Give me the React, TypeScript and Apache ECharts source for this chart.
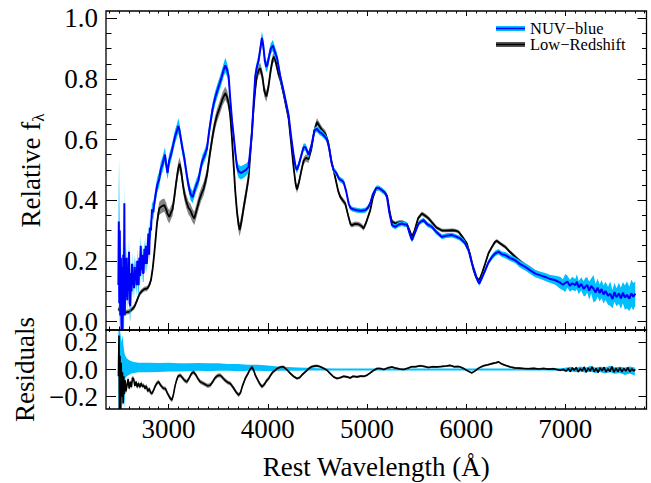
import React, { useEffect, useRef } from 'react';
import * as echarts from 'echarts';

const FONT = 'Liberation Serif';

// axis extents
const X_MIN = 2369;
const X_MAX = 7818;
const FLUX_MIN = -0.028;
const FLUX_MAX = 1.024;
const RES_MIN = -0.29;
const RES_MAX = 0.29;

// tick values
const xMajorTicks = [3000, 4000, 5000, 6000, 7000];
const fluxTicks = [0, 0.2, 0.4, 0.6, 0.8, 1.0];
const resTicks = [-0.2, 0, 0.2];

// NUV-blue composite: [wavelength, relative flux, 1-sigma]
const nuvBlue: number[][] = [
  [2494, 0.12, 0.12], [2498, 0.33, 0.2], [2503, 0.06, 0.15], [2508, 0.3, 0.25], [2513, 0.02, 0.12],
  [2519, 0.21, 0.1], [2525, -0.03, 0.08], [2531, 0.18, 0.1], [2537, -0.03, 0.08], [2543, 0.22, 0.08],
  [2549, 0.05, 0.08], [2554, 0.39, 0.07], [2559, 0.02, 0.06], [2565, 0.2, 0.06], [2571, 0.08, 0.05],
  [2577, 0.21, 0.05], [2583, 0.07, 0.05], [2589, 0.18, 0.05], [2595, 0.1, 0.05], [2601, 0.23, 0.05],
  [2608, 0.06, 0.05], [2614, 0.05, 0.05], [2620, 0.16, 0.04], [2626, 0.1, 0.04], [2632, 0.19, 0.04],
  [2638, 0.12, 0.04], [2645, 0.16, 0.04], [2651, 0.11, 0.04], [2658, 0.18, 0.04], [2664, 0.14, 0.04],
  [2670, 0.17, 0.04], [2677, 0.12, 0.04], [2684, 0.2, 0.04], [2691, 0.13, 0.035], [2698, 0.12, 0.035],
  [2705, 0.21, 0.035], [2712, 0.15, 0.035], [2719, 0.25, 0.035], [2726, 0.17, 0.035], [2733, 0.22, 0.035],
  [2740, 0.16, 0.03], [2748, 0.16, 0.03], [2756, 0.24, 0.03], [2764, 0.19, 0.03], [2772, 0.25, 0.03],
  [2780, 0.19, 0.03], [2788, 0.23, 0.03], [2796, 0.29, 0.03], [2804, 0.22, 0.03], [2812, 0.31, 0.03],
  [2822, 0.3, 0.028], [2833, 0.37, 0.028], [2845, 0.36, 0.025], [2856, 0.39, 0.025], [2870, 0.42, 0.025],
  [2885, 0.45, 0.025], [2906, 0.47, 0.025], [2920, 0.5, 0.025], [2940, 0.52, 0.025], [2963, 0.55, 0.025],
  [2975, 0.52, 0.025], [2990, 0.49, 0.022], [3005, 0.53, 0.022], [3024, 0.55, 0.022], [3045, 0.58, 0.022],
  [3065, 0.61, 0.022], [3085, 0.63, 0.022], [3098, 0.645, 0.025], [3110, 0.63, 0.022], [3125, 0.6, 0.022],
  [3140, 0.57, 0.022], [3158, 0.54, 0.022], [3180, 0.49, 0.02], [3200, 0.45, 0.02], [3222, 0.42, 0.02],
  [3242, 0.41, 0.02], [3260, 0.43, 0.02], [3280, 0.45, 0.02], [3300, 0.465, 0.02], [3320, 0.5, 0.02],
  [3340, 0.53, 0.02], [3360, 0.545, 0.02], [3387, 0.57, 0.02], [3410, 0.63, 0.022], [3443, 0.7, 0.022],
  [3471, 0.74, 0.022], [3500, 0.77, 0.022], [3530, 0.8, 0.022], [3555, 0.83, 0.022], [3572, 0.845, 0.025],
  [3590, 0.83, 0.022], [3605, 0.81, 0.022], [3620, 0.74, 0.02], [3640, 0.66, 0.02], [3655, 0.615, 0.02],
  [3675, 0.55, 0.02], [3690, 0.51, 0.02], [3706, 0.495, 0.022], [3730, 0.49, 0.022], [3756, 0.495, 0.022],
  [3780, 0.5, 0.02], [3806, 0.51, 0.02], [3822, 0.56, 0.02], [3840, 0.62, 0.02], [3857, 0.72, 0.018],
  [3874, 0.81, 0.018], [3890, 0.84, 0.018], [3907, 0.86, 0.018], [3925, 0.9, 0.02], [3941, 0.935, 0.022],
  [3955, 0.91, 0.02], [3970, 0.86, 0.018], [3985, 0.84, 0.018], [3995, 0.845, 0.018], [4010, 0.87, 0.018],
  [4030, 0.9, 0.018], [4052, 0.91, 0.018], [4070, 0.89, 0.018], [4093, 0.87, 0.016], [4125, 0.81, 0.015],
  [4159, 0.76, 0.014], [4185, 0.72, 0.013], [4210, 0.68, 0.013], [4235, 0.61, 0.012], [4260, 0.55, 0.012],
  [4280, 0.51, 0.012], [4294, 0.5, 0.012], [4315, 0.52, 0.012], [4340, 0.55, 0.012], [4361, 0.575, 0.012],
  [4380, 0.575, 0.012], [4411, 0.55, 0.011], [4440, 0.58, 0.011], [4470, 0.63, 0.01], [4496, 0.635, 0.01],
  [4520, 0.625, 0.01], [4546, 0.62, 0.01], [4575, 0.61, 0.01], [4597, 0.6, 0.01], [4620, 0.57, 0.009],
  [4645, 0.52, 0.009], [4663, 0.5, 0.009], [4690, 0.49, 0.009], [4720, 0.47, 0.009], [4745, 0.465, 0.009],
  [4764, 0.46, 0.009], [4790, 0.43, 0.008], [4815, 0.39, 0.008], [4832, 0.375, 0.008], [4860, 0.37, 0.008],
  [4899, 0.367, 0.008], [4940, 0.365, 0.008], [4983, 0.367, 0.008], [5010, 0.375, 0.008], [5033, 0.39, 0.008],
  [5060, 0.42, 0.008], [5094, 0.44, 0.008], [5120, 0.44, 0.008], [5151, 0.433, 0.008], [5180, 0.425, 0.008],
  [5202, 0.41, 0.008], [5225, 0.36, 0.008], [5252, 0.318, 0.008], [5285, 0.312, 0.008], [5320, 0.32, 0.008],
  [5353, 0.323, 0.008], [5380, 0.32, 0.008], [5403, 0.32, 0.008], [5430, 0.29, 0.008], [5454, 0.268, 0.008],
  [5480, 0.29, 0.008], [5520, 0.323, 0.008], [5545, 0.33, 0.008], [5571, 0.334, 0.008], [5610, 0.32, 0.008],
  [5655, 0.312, 0.008], [5700, 0.295, 0.008], [5756, 0.279, 0.008], [5800, 0.283, 0.008], [5857, 0.285, 0.008],
  [5900, 0.28, 0.008], [5940, 0.274, 0.008], [5985, 0.26, 0.008], [6024, 0.235, 0.008], [6060, 0.19, 0.008],
  [6092, 0.158, 0.008], [6115, 0.135, 0.008], [6132, 0.125, 0.008], [6160, 0.145, 0.008], [6192, 0.169, 0.008],
  [6225, 0.195, 0.008], [6260, 0.213, 0.009], [6295, 0.225, 0.009], [6327, 0.23, 0.009], [6360, 0.222, 0.009],
  [6394, 0.219, 0.01], [6440, 0.21, 0.01], [6495, 0.202, 0.01], [6540, 0.19, 0.012], [6596, 0.18, 0.012],
  [6650, 0.168, 0.012], [6697, 0.158, 0.012], [6750, 0.152, 0.012], [6797, 0.147, 0.013], [6850, 0.14, 0.013],
  [6898, 0.136, 0.015], [6948, 0.128, 0.02], [6975, 0.121, 0.018], [6999, 0.127, 0.03], [7020, 0.132, 0.02],
  [7045, 0.118, 0.02], [7070, 0.126, 0.022], [7100, 0.12, 0.02], [7116, 0.131, 0.025], [7135, 0.112, 0.022],
  [7160, 0.124, 0.022], [7185, 0.108, 0.025], [7201, 0.114, 0.03], [7220, 0.121, 0.025], [7240, 0.102, 0.03],
  [7260, 0.117, 0.025], [7284, 0.108, 0.045], [7305, 0.096, 0.028], [7325, 0.112, 0.03], [7345, 0.094, 0.028],
  [7365, 0.107, 0.03], [7385, 0.089, 0.03], [7405, 0.101, 0.03], [7430, 0.085, 0.03], [7452, 0.092, 0.04],
  [7475, 0.074, 0.03], [7495, 0.097, 0.032], [7515, 0.08, 0.03], [7540, 0.093, 0.035], [7560, 0.076, 0.035],
  [7580, 0.095, 0.035], [7600, 0.079, 0.04], [7621, 0.088, 0.045], [7645, 0.075, 0.04], [7665, 0.093, 0.045],
  [7685, 0.082, 0.045], [7705, 0.092, 0.04],
];

// Low-redshift composite: [wavelength, relative flux, 1-sigma]
const lowRedshift: number[][] = [
  [2494, 0.043, 0.008], [2510, 0.035, 0.008], [2530, 0.032, 0.008], [2555, 0.03, 0.008], [2580, 0.031, 0.008],
  [2605, 0.033, 0.008], [2630, 0.04, 0.008], [2654, 0.048, 0.008], [2680, 0.068, 0.008], [2705, 0.09, 0.008],
  [2730, 0.1, 0.008], [2755, 0.107, 0.008], [2775, 0.108, 0.008], [2788, 0.11, 0.008], [2805, 0.12, 0.009],
  [2822, 0.136, 0.01], [2840, 0.175, 0.012], [2856, 0.225, 0.014], [2870, 0.275, 0.016], [2883, 0.324, 0.018],
  [2895, 0.352, 0.02], [2906, 0.373, 0.022], [2930, 0.38, 0.022], [2957, 0.384, 0.022], [2975, 0.37, 0.022],
  [2990, 0.355, 0.022], [3007, 0.345, 0.022], [3025, 0.36, 0.022], [3040, 0.37, 0.022], [3058, 0.41, 0.022],
  [3075, 0.455, 0.022], [3095, 0.5, 0.022], [3110, 0.52, 0.022], [3125, 0.5, 0.022], [3145, 0.45, 0.022],
  [3160, 0.42, 0.022], [3175, 0.4, 0.022], [3200, 0.375, 0.022], [3219, 0.367, 0.022], [3240, 0.35, 0.022],
  [3259, 0.34, 0.022], [3285, 0.37, 0.022], [3309, 0.4, 0.022], [3330, 0.42, 0.022], [3355, 0.44, 0.022],
  [3387, 0.483, 0.022], [3415, 0.55, 0.022], [3443, 0.61, 0.022], [3465, 0.65, 0.022], [3488, 0.68, 0.022],
  [3515, 0.705, 0.022], [3545, 0.735, 0.022], [3572, 0.753, 0.022], [3590, 0.74, 0.022], [3605, 0.72, 0.022],
  [3622, 0.68, 0.022], [3640, 0.6, 0.022], [3655, 0.52, 0.022], [3672, 0.43, 0.022], [3690, 0.36, 0.022],
  [3705, 0.32, 0.022], [3716, 0.302, 0.022], [3735, 0.33, 0.022], [3756, 0.374, 0.022], [3780, 0.42, 0.022],
  [3806, 0.473, 0.02], [3830, 0.58, 0.02], [3857, 0.704, 0.018], [3875, 0.77, 0.018], [3891, 0.813, 0.018],
  [3910, 0.83, 0.018], [3924, 0.835, 0.018], [3945, 0.81, 0.018], [3965, 0.76, 0.018], [3985, 0.742, 0.018],
  [4005, 0.77, 0.018], [4030, 0.83, 0.018], [4050, 0.865, 0.016], [4066, 0.874, 0.016], [4085, 0.85, 0.015],
  [4105, 0.82, 0.015], [4126, 0.8, 0.014], [4160, 0.75, 0.013], [4185, 0.71, 0.012], [4210, 0.67, 0.012],
  [4235, 0.59, 0.012], [4260, 0.51, 0.012], [4280, 0.455, 0.012], [4294, 0.435, 0.012], [4315, 0.46, 0.012],
  [4340, 0.5, 0.012], [4361, 0.53, 0.012], [4385, 0.54, 0.012], [4410, 0.535, 0.012], [4440, 0.57, 0.012],
  [4470, 0.63, 0.012], [4496, 0.658, 0.012], [4520, 0.645, 0.012], [4550, 0.63, 0.011], [4580, 0.62, 0.011],
  [4610, 0.59, 0.01], [4640, 0.53, 0.01], [4663, 0.5, 0.01], [4690, 0.46, 0.01], [4710, 0.43, 0.009],
  [4731, 0.411, 0.009], [4755, 0.4, 0.009], [4781, 0.389, 0.009], [4810, 0.35, 0.009], [4835, 0.32, 0.008],
  [4849, 0.318, 0.008], [4880, 0.322, 0.008], [4915, 0.321, 0.008], [4945, 0.315, 0.008], [4966, 0.307, 0.008],
  [4990, 0.325, 0.008], [5033, 0.367, 0.008], [5060, 0.41, 0.008], [5094, 0.44, 0.008], [5120, 0.44, 0.008],
  [5151, 0.432, 0.008], [5180, 0.425, 0.008], [5202, 0.415, 0.008], [5230, 0.36, 0.008], [5250, 0.33, 0.008],
  [5285, 0.323, 0.007], [5320, 0.327, 0.007], [5353, 0.328, 0.007], [5380, 0.324, 0.007], [5403, 0.321, 0.007],
  [5430, 0.3, 0.007], [5454, 0.279, 0.007], [5480, 0.3, 0.007], [5515, 0.34, 0.007], [5554, 0.356, 0.007],
  [5590, 0.348, 0.007], [5621, 0.34, 0.007], [5660, 0.325, 0.007], [5700, 0.31, 0.006], [5756, 0.3, 0.006],
  [5800, 0.3, 0.006], [5857, 0.301, 0.006], [5890, 0.3, 0.006], [5923, 0.296, 0.006], [5960, 0.28, 0.006],
  [6007, 0.257, 0.006], [6040, 0.22, 0.006], [6075, 0.169, 0.006], [6100, 0.145, 0.006], [6132, 0.136, 0.006],
  [6160, 0.16, 0.006], [6192, 0.191, 0.006], [6225, 0.225, 0.006], [6260, 0.246, 0.006], [6290, 0.262, 0.006],
  [6310, 0.266, 0.006], [6340, 0.258, 0.006], [6394, 0.246, 0.006], [6440, 0.23, 0.006], [6495, 0.213, 0.006],
  [6540, 0.2, 0.006], [6596, 0.186, 0.006], [6650, 0.175, 0.006], [6697, 0.164, 0.006], [6750, 0.156, 0.006],
  [6800, 0.148, 0.006], [6850, 0.141, 0.006], [6900, 0.135, 0.006], [6950, 0.128, 0.006], [7000, 0.124, 0.006],
  [7050, 0.12, 0.006], [7100, 0.116, 0.006], [7150, 0.112, 0.006], [7200, 0.108, 0.006], [7250, 0.105, 0.006],
  [7300, 0.101, 0.006], [7350, 0.098, 0.006], [7400, 0.094, 0.006], [7450, 0.091, 0.006], [7500, 0.088, 0.006],
  [7550, 0.086, 0.006], [7600, 0.084, 0.006], [7650, 0.083, 0.006], [7700, 0.082, 0.006],
];

// NUV-blue residual band: [wavelength, lower, upper]
const nuvResidualBand: number[][] = [
  [2494, -0.29, 0.29], [2510, -0.29, 0.29], [2525, -0.29, 0.2], [2535, -0.25, 0.25], [2545, -0.12, 0.18],
  [2555, -0.29, 0.12], [2565, -0.06, 0.1], [2580, -0.05, 0.08], [2600, -0.04, 0.07], [2625, -0.03, 0.06],
  [2650, -0.025, 0.055], [2700, -0.02, 0.05], [2800, -0.02, 0.05], [2900, -0.018, 0.048], [3000, -0.015, 0.05],
  [3100, -0.015, 0.045], [3200, -0.012, 0.045], [3300, -0.01, 0.048], [3400, -0.012, 0.045], [3500, -0.01, 0.045],
  [3600, -0.01, 0.04], [3700, -0.012, 0.04], [3800, -0.01, 0.035], [3900, -0.01, 0.035], [4000, -0.012, 0.03],
  [4100, -0.01, 0.022], [4200, -0.01, 0.018], [4300, -0.01, 0.015], [4400, -0.008, 0.012], [4500, -0.008, 0.01],
  [4700, -0.008, 0.008], [5000, -0.007, 0.007], [5500, -0.007, 0.007], [6000, -0.007, 0.007], [6500, -0.007, 0.007],
  [6800, -0.007, 0.007], [6950, -0.01, 0.01], [7000, -0.015, 0.012], [7050, -0.012, 0.02], [7100, -0.02, 0.01],
  [7150, -0.014, 0.022], [7200, -0.022, 0.012], [7250, -0.015, 0.025], [7300, -0.025, 0.014], [7350, -0.018, 0.02],
  [7400, -0.03, 0.016], [7450, -0.02, 0.025], [7500, -0.032, 0.015], [7550, -0.025, 0.02], [7600, -0.04, 0.014],
  [7650, -0.03, 0.022], [7700, -0.045, 0.015],
];

// Low-redshift residual: [wavelength, residual, 1-sigma]
const lowRedshiftResidual: number[][] = [
  [2494, -0.05, 0.02], [2500, 0.25, 0.02], [2505, -0.29, 0.02], [2510, 0.1, 0.02], [2516, -0.29, 0.02],
  [2522, 0.05, 0.02], [2528, -0.2, 0.02], [2535, -0.02, 0.02], [2542, -0.25, 0.02], [2548, -0.05, 0.02],
  [2555, -0.18, 0.02], [2562, -0.08, 0.02], [2570, -0.16, 0.02], [2581, -0.115, 0.02], [2592, -0.07, 0.02],
  [2603, -0.14, 0.015], [2615, -0.09, 0.015], [2625, -0.13, 0.015], [2636, -0.06, 0.015], [2648, -0.07, 0.015],
  [2660, -0.12, 0.015], [2672, -0.09, 0.015], [2684, -0.13, 0.015], [2696, -0.1, 0.015], [2710, -0.13, 0.015],
  [2723, -0.1, 0.015], [2736, -0.125, 0.015], [2749, -0.115, 0.015], [2762, -0.14, 0.015], [2775, -0.12, 0.015],
  [2790, -0.16, 0.015], [2805, -0.14, 0.015], [2818, -0.17, 0.015], [2833, -0.176, 0.015], [2850, -0.15, 0.015],
  [2866, -0.12, 0.015], [2883, -0.1, 0.015], [2899, -0.09, 0.015], [2915, -0.11, 0.015], [2930, -0.125, 0.015],
  [2950, -0.14, 0.015], [2967, -0.139, 0.015], [2985, -0.17, 0.015], [3000, -0.19, 0.015], [3015, -0.21, 0.015],
  [3034, -0.225, 0.015], [3050, -0.18, 0.015], [3065, -0.12, 0.015], [3080, -0.08, 0.015], [3095, -0.05, 0.015],
  [3118, -0.042, 0.015], [3140, -0.06, 0.015], [3160, -0.08, 0.015], [3185, -0.091, 0.015], [3210, -0.06, 0.015],
  [3230, -0.03, 0.015], [3252, -0.018, 0.015], [3275, -0.04, 0.015], [3298, -0.07, 0.015], [3320, -0.091, 0.015],
  [3345, -0.1, 0.015], [3370, -0.11, 0.015], [3395, -0.12, 0.015], [3420, -0.115, 0.015], [3445, -0.09, 0.015],
  [3470, -0.06, 0.015], [3495, -0.045, 0.015], [3521, -0.042, 0.015], [3545, -0.06, 0.015], [3570, -0.08, 0.015],
  [3597, -0.095, 0.015], [3622, -0.103, 0.015], [3650, -0.13, 0.015], [3680, -0.165, 0.015], [3706, -0.188, 0.015],
  [3725, -0.17, 0.015], [3745, -0.12, 0.015], [3773, -0.066, 0.015], [3800, -0.03, 0.015], [3820, 0.0, 0.015],
  [3841, 0.019, 0.015], [3860, -0.01, 0.015], [3876, -0.045, 0.015], [3891, -0.066, 0.015], [3915, -0.1, 0.015],
  [3941, -0.127, 0.015], [3965, -0.11, 0.015], [3985, -0.085, 0.015], [4009, -0.066, 0.015], [4030, -0.04, 0.013],
  [4050, -0.02, 0.012], [4076, -0.005, 0.012], [4100, 0.01, 0.01], [4130, 0.018, 0.01], [4159, 0.019, 0.01],
  [4190, 0.0, 0.01], [4210, -0.015, 0.01], [4227, -0.029, 0.01], [4260, -0.05, 0.01], [4294, -0.066, 0.01],
  [4320, -0.06, 0.01], [4345, -0.04, 0.01], [4378, -0.018, 0.01], [4410, 0.005, 0.01], [4440, 0.02, 0.01],
  [4470, 0.025, 0.01], [4496, 0.027, 0.01], [4530, 0.02, 0.008], [4565, 0.008, 0.008], [4597, -0.005, 0.008],
  [4630, -0.03, 0.008], [4665, -0.055, 0.008], [4698, -0.066, 0.008], [4730, -0.06, 0.008], [4765, -0.05, 0.008],
  [4798, -0.054, 0.008], [4830, -0.062, 0.008], [4860, -0.05, 0.008], [4899, -0.054, 0.008], [4940, -0.048, 0.008],
  [4970, -0.05, 0.008], [5000, -0.042, 0.008], [5033, -0.025, 0.008], [5070, -0.005, 0.008], [5101, 0.007, 0.008],
  [5134, 0.007, 0.007], [5170, 0.0, 0.007], [5210, 0.012, 0.007], [5252, 0.019, 0.007], [5290, 0.01, 0.007],
  [5330, 0.004, 0.007], [5369, 0.0, 0.007], [5410, 0.01, 0.007], [5450, 0.02, 0.007], [5490, 0.02, 0.007],
  [5537, 0.027, 0.007], [5580, 0.022, 0.007], [5620, 0.015, 0.007], [5660, 0.02, 0.007], [5706, 0.019, 0.007],
  [5750, 0.022, 0.007], [5800, 0.026, 0.007], [5840, 0.03, 0.007], [5880, 0.02, 0.007], [5920, 0.022, 0.007],
  [5940, 0.019, 0.007], [5980, 0.005, 0.007], [6020, -0.012, 0.007], [6058, -0.025, 0.007], [6090, -0.01, 0.007],
  [6130, 0.012, 0.007], [6175, 0.027, 0.007], [6220, 0.035, 0.007], [6270, 0.045, 0.007], [6300, 0.05, 0.007],
  [6327, 0.056, 0.007], [6360, 0.04, 0.007], [6400, 0.03, 0.007], [6445, 0.019, 0.007], [6490, 0.012, 0.007],
  [6530, 0.01, 0.007], [6579, 0.007, 0.007], [6630, 0.005, 0.007], [6680, 0.008, 0.007], [6730, 0.004, 0.007],
  [6780, 0.007, 0.007], [6830, 0.003, 0.007], [6880, 0.005, 0.007], [6948, -0.005, 0.007], [6980, 0.0, 0.007],
  [7010, -0.012, 0.007], [7030, 0.008, 0.007], [7050, -0.015, 0.007], [7070, 0.012, 0.007], [7090, -0.006, 0.007],
  [7110, 0.015, 0.007], [7130, -0.018, 0.007], [7150, 0.006, 0.007], [7170, -0.01, 0.007], [7190, 0.018, 0.007],
  [7210, -0.02, 0.007], [7230, 0.01, 0.007], [7250, -0.012, 0.007], [7270, 0.02, 0.007], [7290, -0.016, 0.007],
  [7310, 0.008, 0.007], [7330, -0.022, 0.007], [7350, 0.012, 0.007], [7370, -0.01, 0.007], [7390, 0.016, 0.007],
  [7410, -0.018, 0.007], [7430, 0.006, 0.007], [7450, -0.014, 0.007], [7470, 0.022, 0.007], [7490, -0.02, 0.007],
  [7510, 0.01, 0.007], [7530, -0.015, 0.007], [7550, 0.012, 0.007], [7570, -0.018, 0.007], [7590, 0.008, 0.007],
  [7610, -0.012, 0.007], [7630, 0.014, 0.007], [7650, -0.016, 0.007], [7670, 0.005, 0.007], [7690, -0.01, 0.007],
  [7705, 0.0, 0.007],
];

const CYAN = '#00BFFF';
const BLUE = '#0000FF';
const GRAY = '#6F6F6F';
const BLACK = '#000000';

function stepValues(from: number, to: number, step: number): number[] {
  const out: number[] = [];
  const n = Math.round((to - from) / step);
  for (let i = 0; i <= n; i++) out.push(+(from + i * step).toFixed(6));
  return out;
}

const xMinorTicks = stepValues(2400, 7800, 100);
const fluxMinorTicks = stepValues(0, 1.0, 0.05);

function fmtNum(v: number): string {
  const s = Math.abs(v).toFixed(1);
  return v < -1e-9 ? '\u2212' + s : s;
}

// band drawn as one polygon through the axes' own scales (api.coord)
function bandSeries(id: string, rows: number[][], color: string, opacity: number, xi: number, yi: number, z: number) {
  return {
    id, type: 'custom', xAxisIndex: xi, yAxisIndex: yi, silent: true, z,
    encode: { x: 0, y: [1, 2] },
    data: rows,
    renderItem: (params: any, api: any) => {
      if (params.dataIndexInside !== 0) return null;
      const cs = params.coordSys;
      const top = cs.y;
      const bottom = cs.y + cs.height;
      const clampY = (p: number[]) => [p[0], Math.min(bottom, Math.max(top, p[1]))];
      const n = params.dataInsideLength;
      const upper: number[][] = [];
      const lower: number[][] = [];
      for (let j = 0; j < n; j++) {
        const x = api.value(0, j);
        upper.push(clampY(api.coord([x, api.value(2, j)])));
        lower.push(clampY(api.coord([x, api.value(1, j)])));
      }
      return {
        type: 'polygon',
        shape: { points: upper.concat(lower.reverse()) },
        style: { fill: color, opacity, stroke: null },
      };
    },
  };
}

function lineSeries(id: string, data: number[][], color: string, width: number, xi: number, yi: number, z: number) {
  return { id, type: 'line', xAxisIndex: xi, yAxisIndex: yi, symbol: 'none', silent: true, z, clip: true, lineStyle: { color, width }, data };
}

function xAxis(grid: number, position: string, ticks: number[], len: number, extra: any = {}) {
  return {
    type: 'value', gridIndex: grid, position, min: X_MIN, max: X_MAX,
    axisLine: { show: false, onZero: false }, splitLine: { show: false },
    axisTick: { show: true, inside: true, length: len, customValues: ticks, lineStyle: { color: BLACK, width: 1 } },
    axisLabel: { show: false },
    axisPointer: { show: false },
    ...extra,
  };
}

function yAxis(grid: number, position: string, min: number, max: number, ticks: number[], len: number, extra: any = {}) {
  return {
    type: 'value', gridIndex: grid, position, min, max,
    axisLine: { show: false, onZero: false }, splitLine: { show: false },
    axisTick: { show: true, inside: true, length: len, customValues: ticks, lineStyle: { color: BLACK, width: 1 } },
    axisLabel: { show: false },
    axisPointer: { show: false },
    ...extra,
  };
}

export default function App() {
  const ref = useRef<HTMLDivElement>(null);

  useEffect(() => {
    document.body.style.margin = '0';
    if (!ref.current) return;
    const chart = echarts.init(ref.current, null, { renderer: 'svg' });

    const labelStyle = { show: true, color: BLACK, fontFamily: FONT, fontSize: 27, lineHeight: 20 };

    const option: any = {
      animation: false,
      backgroundColor: '#ffffff',
      textStyle: { fontFamily: FONT },
      grid: [
        { left: 106, right: 4.5, top: 11, height: 319, show: true, borderColor: BLACK, borderWidth: 1.3, backgroundColor: 'transparent', z: 10 },
        { left: 106, right: 4.5, top: 330, height: 79, show: true, borderColor: BLACK, borderWidth: 1.3, backgroundColor: 'transparent', z: 10 },
      ],
      xAxis: [
        xAxis(0, 'bottom', xMajorTicks, 7),
        xAxis(0, 'bottom', xMinorTicks, 3.5),
        xAxis(0, 'top', xMajorTicks, 5),
        xAxis(0, 'top', xMinorTicks, 2.5),
        xAxis(1, 'bottom', xMajorTicks, 5, {
          axisLabel: { ...labelStyle, margin: 10, customValues: xMajorTicks, formatter: (v: number) => String(Math.round(v)) },
          name: 'Rest Wavelength (\u00C5)', nameLocation: 'middle', nameGap: 44,
          nameTextStyle: { color: BLACK, fontFamily: FONT, fontSize: 27 },
        }),
        xAxis(1, 'bottom', xMinorTicks, 2.5),
        xAxis(1, 'top', xMajorTicks, 4),
        xAxis(1, 'top', xMinorTicks, 2),
      ],
      yAxis: [
        yAxis(0, 'left', FLUX_MIN, FLUX_MAX, fluxTicks, 11, {
          axisLabel: { ...labelStyle, margin: 8, customValues: fluxTicks, formatter: fmtNum },
          name: '{a|Relative f}{b|\u03BB}', nameLocation: 'middle', nameGap: 59,
          nameTextStyle: {
            color: BLACK, fontFamily: FONT, fontSize: 27,
            rich: {
              a: { fontFamily: FONT, fontSize: 27, color: BLACK, lineHeight: 30, verticalAlign: 'top', padding: [0, 0, 3, 0] },
              b: { fontFamily: FONT, fontSize: 17, color: BLACK, lineHeight: 17, verticalAlign: 'bottom' },
            },
          },
        }),
        yAxis(0, 'left', FLUX_MIN, FLUX_MAX, fluxMinorTicks, 5.5),
        yAxis(0, 'right', FLUX_MIN, FLUX_MAX, fluxTicks, 9),
        yAxis(0, 'right', FLUX_MIN, FLUX_MAX, fluxMinorTicks, 4.5),
        yAxis(1, 'left', RES_MIN, RES_MAX, resTicks, 10, {
          axisLabel: { ...labelStyle, margin: 8, customValues: resTicks, formatter: fmtNum },
          name: 'Residuals', nameLocation: 'middle', nameGap: 61,
          nameTextStyle: { color: BLACK, fontFamily: FONT, fontSize: 27 },
        }),
        yAxis(1, 'right', RES_MIN, RES_MAX, resTicks, 8),
      ],
      series: [
        bandSeries('lowz-band', lowRedshift.map((d) => [d[0], d[1] - d[2], d[1] + d[2]]), GRAY, 0.85, 0, 0, 1),
        lineSeries('lowz', lowRedshift.map((d) => [d[0], d[1]]), BLACK, 1.8, 0, 0, 2),
        bandSeries('nuv-band', nuvBlue.map((d) => [d[0], d[1] - d[2], d[1] + d[2]]), CYAN, 1, 0, 0, 3),
        lineSeries('nuv', nuvBlue.map((d) => [d[0], d[1]]), BLUE, 2, 0, 0, 4),

        bandSeries('nuv-res-band', nuvResidualBand, CYAN, 1, 4, 4, 1),
        bandSeries('lowz-res-band', lowRedshiftResidual.map((d) => [d[0], d[1] - d[2], d[1] + d[2]]), GRAY, 0.85, 4, 4, 2),
        lineSeries('lowz-res', lowRedshiftResidual.map((d) => [d[0], d[1]]), BLACK, 1.6, 4, 4, 3),
      ],
      graphic: [
        { type: 'rect', shape: { x: 496, y: 26, width: 29, height: 5 }, style: { fill: CYAN }, silent: true, z: 20 },
        { type: 'line', shape: { x1: 496, y1: 28.5, x2: 525, y2: 28.5 }, style: { stroke: BLUE, lineWidth: 1.5 }, silent: true, z: 21 },
        { type: 'rect', shape: { x: 496, y: 42, width: 29, height: 5 }, style: { fill: '#555555' }, silent: true, z: 20 },
        { type: 'line', shape: { x1: 496, y1: 44.5, x2: 525, y2: 44.5 }, style: { stroke: BLACK, lineWidth: 1.5 }, silent: true, z: 21 },
        { type: 'text', x: 530, y: 28.5, style: { text: 'NUV\u2212blue', fill: BLACK, fontFamily: FONT, fontSize: 16.5, textVerticalAlign: 'middle' }, silent: true, z: 21 },
        { type: 'text', x: 530, y: 44.5, style: { text: 'Low\u2212Redshift', fill: BLACK, fontFamily: FONT, fontSize: 16.5, textVerticalAlign: 'middle' }, silent: true, z: 21 },
      ],
    };

    chart.setOption(option);
    return () => chart.dispose();
  }, []);

  return <div ref={ref} style={{ width: 651, height: 483 }} />;
}
